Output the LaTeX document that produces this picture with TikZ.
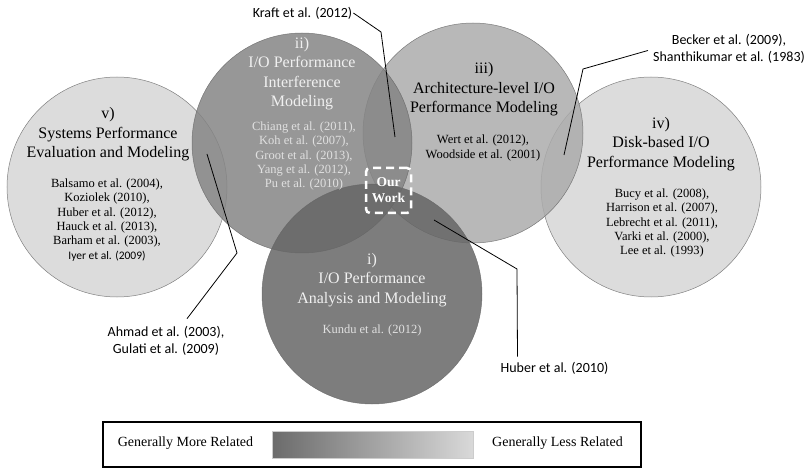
\documentclass[tikz,border=0pt]{standalone}
\usepackage{fontspec}
\setmainfont{Liberation Serif}
\newfontfamily\calibri{Carlito}
\usepackage{tikz}

\tikzset{
	area/.style={circle, minimum size=220pt, inner sep=0pt, draw=black!60, line width=0.5pt, fill opacity=0.85, draw opacity=0.8},
	title/.style={align=center, font=\fontsize{16}{19.5}\selectfont},
	refs/.style={align=center, font=\fontsize{12.5}{14.3}\selectfont},
	callout/.style={align=center, inner sep=1pt, font=\calibri\fontsize{14}{17}\selectfont},
	leader/.style={draw=black, line width=0.8pt},
}

\begin{document}
\begin{tikzpicture}[x=1pt, y=-1pt]
			\useasboundingbox (0,0) rectangle (807,468);
			\node	(sysperf) at (117,187) [area, fill=black!16] {};
			\node	(disk) at (651,187) [area, fill=black!16] {};
			\node	(arch) at (473,133) [area, fill=black!33] {};
			\node	(interf) at (302,143) [area, fill=black!48] {};
			\node	(analysis) at (372,294) [area, fill=black!60] {};
			
			\node	(sysperf title) at (108,134.5) [title] {v)\\Systems Performance\\Evaluation and Modeling};
			\node	(sysperf refs) at (107,220) [refs] {Balsamo et al. (2004),\\Koziolek (2010),\\Huber et al. (2012),\\Hauck et al. (2013),\\Barham et al. (2003),\\{\calibri\fontsize{11.5}{14.3}\selectfont Iyer et al. (2009)}};
			\node	(interf title) at (302,73.5) [title, text=white!94!black] {ii)\\I/O Performance\\Interference\\Modeling};
			\node	(interf refs) at (304,156) [refs, text=white!88!black] {Chiang et al. (2011),\\Koh et al. (2007),\\Groot et al. (2013),\\Yang et al. (2012),\\Pu et al. (2010)};
			\node	(arch title) at (484,89.5) [title] {iii)\\Architecture-level I/O\\Performance Modeling};
			\node	(arch refs) at (483,148) [refs, font=\fontsize{12.5}{15.5}\selectfont] {Wert et al. (2012),\\Woodside et al. (2001)};
			\node	(disk title) at (661,144) [title] {iv)\\Disk-based I/O\\Performance Modeling};
			\node	(disk refs) at (662,223) [refs] {Bucy et al. (2008),\\Harrison et al. (2007),\\Lebrecht et al. (2011),\\Varki et al. (2000),\\Lee et al. (1993)};
			\node	(analysis title) at (372,280) [title, text=white!94!black] {i)\\I/O Performance\\Analysis and Modeling};
			\node	(analysis refs) at (372,330) [refs, text=white!88!black] {Kundu et al. (2012)};
			
			\node	(ourwork) at (388.5,190.5) [draw=white, dashed, dash pattern=on 8pt off 5pt, line width=2.5pt, rounded corners=4pt, minimum size=45pt, inner sep=0pt, align=center, text=white, font=\bfseries\fontsize{13.5}{16}\selectfont] {Our\\Work};
			
			\node	(kraft) at (302.5,13) [callout] {Kraft et al. (2012)};
			\node	(becker) at (729,48.5) [callout] {Becker et al. (2009),\\Shanthikumar et al. (1983)};
			\node	(ahmad) at (166,340.5) [callout] {Ahmad et al. (2003),\\Gulati et al. (2009)};
			\node	(huber) at (554.5,368) [callout] {Huber et al. (2010)};
			
			\coordinate (kraft bend) at (381,32);
			\coordinate (kraft tip) at (395,137);
			\coordinate (becker bend) at (583,69);
			\coordinate (becker tip) at (564,155);
			\coordinate (ahmad bend) at (237,253);
			\coordinate (ahmad tip) at (207,154);
			\coordinate (huber bend) at (517,269);
			\coordinate (huber tip) at (434,220);
			
			\draw[leader] (kraft.east) -- (kraft bend) -- (kraft tip);
			\draw[leader] ([xshift=-4pt,yshift=-2pt]becker.west) -- (becker bend) -- (becker tip);
			\draw[leader] ([xshift=21pt,yshift=6pt]ahmad.north) -- (ahmad bend) -- (ahmad tip);
			\draw[leader] ([xshift=-37pt,yshift=4pt]huber.north) -- (huber bend) -- (huber tip);
			
			\node	(legend) at (372,444.5) [draw, line width=1.2pt, minimum width=538pt, minimum height=45pt] {};
			\node	(scale) at (372.5,444.5) [draw=black!20, left color=black!58, right color=black!15, minimum width=201pt, minimum height=27pt] {};
			\node	(more) at (185.5,443) [font=\fontsize{14}{16}\selectfont] {Generally More Related};
			\node	(less) at (557.5,443) [font=\fontsize{14}{16}\selectfont] {Generally Less Related};
		\end{tikzpicture}
\end{document}
